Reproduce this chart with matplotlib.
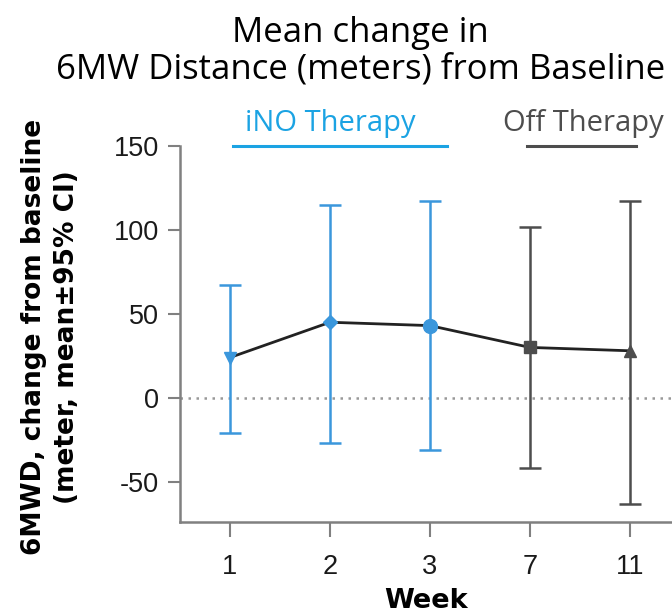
import numpy as np
import matplotlib
matplotlib.use("Agg")
from matplotlib import pyplot as plt

# data
weeks = ['1', '2', '3', '7', '11']
means = [24, 45, 43, 30, 28]
ci_low = [-21, -27, -31, -42, -63]
ci_high = [67, 115, 117, 102, 117]
markers = ['v', 'D', 'o', 's', '^']
marker_sizes = [9, 7, 10, 9, 9]
on_therapy = [True, True, True, False, False]

blue = '#3b97dc'
label_blue = '#1ba3e3'
dark = '#4d4d4d'
axis_gray = '#808080'

plt.rcParams['font.family'] = ['Liberation Sans', 'DejaVu Sans']

fig = plt.figure(figsize=(6.72, 6.16), dpi=100)
ax = fig.add_axes([180/672, 1-522/616, 1-180/672, (522-146)/616])

x = np.arange(len(weeks))

# dotted baseline
ax.axhline(0, color='#999999', lw=1.8, ls=(0, (1, 2.2)), zorder=1)

# mean line
ax.plot(x, means, color='#222222', lw=2, zorder=3)

for i in range(len(weeks)):
    c = blue if on_therapy[i] else dark
    ax.errorbar(x[i], means[i],
                yerr=[[means[i]-ci_low[i]], [ci_high[i]-means[i]]],
                fmt='none', ecolor=c, elinewidth=1.8, capsize=8, capthick=1.8, zorder=2)
    ax.plot(x[i], means[i], marker=markers[i], color=c, ms=marker_sizes[i], zorder=4, ls='none')

ax.set_xlim(-0.5, 4.42)
ax.set_ylim(-74, 150)
ax.set_xticks(x)
ax.set_xticklabels(weeks)
ax.set_yticks([-50, 0, 50, 100, 150])
ax.set_yticklabels(['-50', '0', '50', '100', '150'])

for s in ['top', 'right']:
    ax.spines[s].set_visible(False)
for s in ['left', 'bottom']:
    ax.spines[s].set_color(axis_gray)
    ax.spines[s].set_linewidth(1.8)
ax.tick_params(axis='both', colors=axis_gray, width=1.5, labelcolor='#1a1a1a', labelsize=19.5)
ax.tick_params(axis='y', length=9, pad=6)
ax.tick_params(axis='x', length=11, pad=12)

# group labels
ax.text(1, 1.06, 'iNO Therapy', transform=ax.get_xaxis_transform(), ha='center', va='center',
        color=label_blue, fontsize=21, family=['Open Sans', 'DejaVu Sans'])
ax.plot([0.03, 2.17], [1.0, 1.0], transform=ax.get_xaxis_transform(), color=label_blue, lw=2.2, clip_on=False)
ax.text(3.53, 1.06, 'Off Therapy', transform=ax.get_xaxis_transform(), ha='center', va='center',
        color=dark, fontsize=21, family=['Open Sans', 'DejaVu Sans'])
ax.plot([2.97, 4.06], [1.0, 1.0], transform=ax.get_xaxis_transform(), color=dark, lw=2.2, clip_on=False)

# titles
fig.text(0.537, 1-51/616, 'Mean change in\n6MW Distance (meters) from Baseline', ha='center', va='center',
         fontsize=25, family=['Open Sans', 'DejaVu Sans'], linespacing=1.1)
fig.text(51/672, 1-337/616, '6MWD, change from baseline\n(meter, mean±95% CI)', rotation=90,
         ha='center', va='center', fontsize=19, fontweight='bold', family=['DejaVu Sans'], linespacing=1.35)
ax.set_xlabel('Week', fontsize=19.5, fontweight='bold', family=['DejaVu Sans'], labelpad=6)

plt.savefig('out.png', dpi=100)
